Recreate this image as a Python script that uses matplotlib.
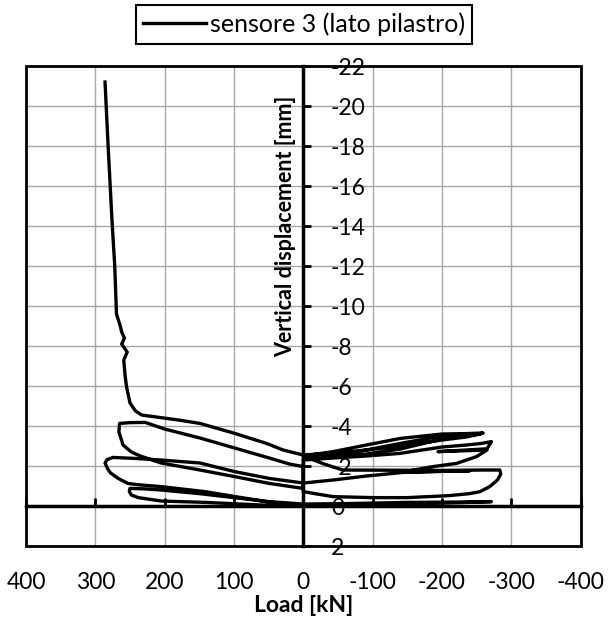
import matplotlib
matplotlib.use("Agg")
import matplotlib.pyplot as plt
from matplotlib.patches import Rectangle

plt.rcParams["font.family"] = ["Lato", "DejaVu Sans"]
plt.rcParams["axes.unicode_minus"] = False

# load [kN] and vertical displacement [mm], in test order
load = [0, 60, 140, 205, 238, 248, 251, 250, 230, 205, 150, 100, 50, 0,
        -60, -150, -230, -271.5, -230, -150, -60, 0,
        50, 100, 142, 205, 240, 253, 267, 278, 282, 286, 283, 274.5, 243, 205, 149, 99, 49, 0,
        -43, -91, -144, -200, -240, -200, -144, -187, -221, -250, -265, -194.5, -265, -271.5,
        -255, -235.5, -200, -139, -91, -43, 0,
        0, 49, 99, 149, 205, 235, 248, 260, 266, 265, 250, 228, 200, 149, 99, 49, 20, 0,
        0, -20, -43, -100, -150, -211, -240, -255, -269, -280, -285, -283.5,
        -260, -200, -120, -57, -30, 0,
        -43, -91, -140, -200, -235, -259.5, -245, -200, -140, -91, -43, 0,
        -43, -91, -140, -200, -240, -257, -235, -200, -140, -91, -43, 0,
        29, 53, 98.8, 149, 180, 205, 233, 242, 250, 255, 257, 259, 254, 262, 258, 262, 264,
        269.5, 272, 276, 281.7, 286]
disp = [0, -0.05, -0.18, -0.25, -0.42, -0.55, -0.72, -0.88, -0.86, -0.8, -0.62, -0.42, -0.22, -0.1,
        -0.12, -0.18, -0.2, -0.22, -0.17, -0.1, -0.05, -0.03,
        -0.2, -0.48, -0.72, -0.97, -1.07, -1.13, -1.38, -1.65, -1.85, -2.15, -2.32, -2.43, -2.38, -2.3, -2.15, -1.72, -1.38, -1.15,
        -1.3, -1.5, -1.68, -1.73, -1.76, -1.74, -1.7, -1.97, -2.13, -2.47, -2.8, -2.72, -2.86, -3.22,
        -3.12, -3.05, -2.95, -2.63, -2.5, -2.4, -2.3,
        -0.88, -1.13, -1.47, -1.8, -2.15, -2.5, -2.7, -3.05, -3.7, -4.13, -4.17, -4.18, -3.85, -3.4, -2.9, -2.4, -2.1, -1.97,
        -0.72, -0.6, -0.47, -0.42, -0.42, -0.52, -0.62, -0.72, -0.97, -1.3, -1.6, -1.8,
        -1.8, -1.78, -1.79, -1.8, -2.1, -2.5,
        -2.72, -3.05, -3.38, -3.6, -3.62, -3.65, -3.55, -3.35, -2.85, -2.6, -2.45, -2.35,
        -2.5, -2.8, -3.13, -3.5, -3.62, -3.62, -3.45, -3.3, -3.0, -2.8, -2.65, -2.55,
        -2.8, -3.13, -3.63, -4.13, -4.3, -4.42, -4.55, -4.75, -5.15, -5.97, -6.5, -7.3, -7.7, -8.1, -8.4, -8.7, -9.0,
        -9.6, -12.0, -14.3, -18.1, -21.2]

x_ticks = list(range(-400, 401, 100))
y_ticks = list(range(-22, 3, 2))

fig = plt.figure(figsize=(6.08, 6.30), dpi=100)
ax = fig.add_axes([0.0428, 0.1333, 0.912, 0.7619])

ax.plot(load, disp, color="black", lw=2.4, solid_joinstyle="round",
        label="sensore 3 (lato pilastro)", zorder=2)

ax.set_xlim(400, -400)
ax.set_ylim(2, -22)
ax.set_xticks(x_ticks)
ax.set_yticks(y_ticks)
ax.grid(True, color="#a6a6a6", lw=1.0)
ax.set_axisbelow(True)

# zero axes: top spine carries x ticks at y=0, right spine carries y ticks at x=0
ax.spines["top"].set_position(("data", 0))
ax.spines["right"].set_position(("data", 0))
for s in ["top", "right"]:
    ax.spines[s].set_linewidth(2.5)
    ax.spines[s].set_zorder(3)
ax.spines["left"].set_visible(False)
ax.spines["bottom"].set_visible(False)
ax.add_patch(Rectangle((0, 0), 1, 1, transform=ax.transAxes, fill=False,
                       ec="black", lw=2.0, zorder=3, clip_on=False))

ax.tick_params(axis="x", bottom=False, top=True, labelbottom=True, labeltop=False,
               direction="out", length=6, width=2, labelsize=16.5, pad=13)
ax.tick_params(axis="y", left=False, right=True, labelleft=False, labelright=True,
               direction="out", length=6, width=2, labelsize=16.5, pad=14)

ax.set_xlabel("Load [kN]", fontsize=16.5, fontweight="bold", labelpad=1)
ax.text(26, -14.0, "Vertical displacement [mm]", rotation=90, ha="center", va="center",
        fontsize=15.5, fontweight="bold")

leg = fig.legend(loc="upper center", bbox_to_anchor=(0.5, 0.992), borderaxespad=0,
                 fontsize=18, frameon=True, fancybox=False, edgecolor="black",
                 framealpha=1, handlelength=2.5, handletextpad=0.15, borderpad=0.3)
leg.get_frame().set_linewidth(1.5)

fig.savefig("out.png", dpi=100)
